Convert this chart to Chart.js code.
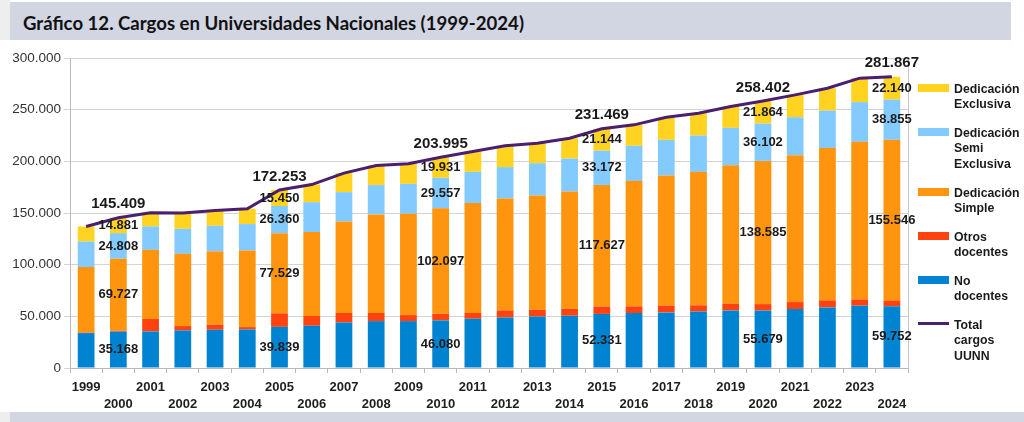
<!DOCTYPE html>
<html>
<head>
<meta charset="utf-8">
<script src="https://cdn.jsdelivr.net/npm/chart.js@4"></script>
<style>
  html, body { margin:0; padding:0; background:#ffffff; }
  body { width:1024px; height:422px; position:relative; overflow:hidden; font-family:"Liberation Sans", Arial, sans-serif; }
  #leftTop { position:absolute; left:0; top:0; width:10px; height:40px; background:#eeeeee; }
  #band { position:absolute; left:10px; top:2px; width:1001px; height:38px; background:#d2d6e3; }
  #title { position:absolute; left:23px; top:11px; font-family:Lato, "Open Sans", sans-serif; font-weight:bold; font-size:18px; line-height:24px; color:#111; white-space:nowrap; transform-origin:0 50%; }
  #leftBot { position:absolute; left:0; top:412px; width:10px; height:10px; background:#eeeeee; }
  #bandBot { position:absolute; left:10px; top:412px; width:1014px; height:10px; background:#d2d6e3; }
  #wrap { position:absolute; left:0; top:40px; width:1024px; height:370px; }
  .lg { position:absolute; left:918px; font-family:"Liberation Sans", Arial, sans-serif; font-weight:bold; font-size:12.3px; line-height:15.5px; color:#1a1a1a; }
  .lg .sw { position:absolute; left:0; width:31px; height:7.5px; }
  .lg .tx { position:absolute; left:36px; top:0; white-space:nowrap; }
</style>
</head>
<body>
<div id="leftTop"></div>
<div id="band"></div>
<div id="title">Gráfico 12. Cargos en Universidades Nacionales (1999-2024)</div>
<div id="leftBot"></div>
<div id="bandBot"></div>
<div id="wrap"><canvas id="c" width="1024" height="370"></canvas></div>
<div id="legend"></div>
<script>
// ---- Data ----
const years = ['1999','2000','2001','2002','2003','2004','2005','2006','2007','2008','2009','2010','2011','2012','2013','2014','2015','2016','2017','2018','2019','2020','2021','2022','2023','2024'];
const noDocentes   = [33800,35168,35400,36400,37000,37300,39839,40900,44100,45400,45400,46080,47700,48900,49900,50600,52331,53200,53800,54700,55700,55679,57000,58600,60300,59752];
const otrosDocentes= [500,825,12000,4200,4900,2300,13075,9400,9100,7800,5800,6330,5500,6800,6500,6700,7195,6400,6500,5900,6500,6172,6800,6800,6000,5574];
const dedSimple    = [63400,69727,67000,69900,71200,74100,77529,81200,88600,95400,98000,102097,106400,108300,110500,113500,117627,121500,126000,129200,134100,138585,142200,147400,152600,155546];
const dedSemi      = [24700,24808,22600,24200,24500,25600,26360,29000,28400,28400,29000,29557,30200,30400,31300,31900,33172,33900,34500,35200,36100,36102,36700,36300,38400,38855];
const dedExclusiva = [14600,14881,13200,15300,14800,14800,15450,17000,18400,19000,19400,19931,19700,20600,19400,19700,21144,20300,21900,21600,20600,21864,21600,21700,23200,22140];
const totalCargos  = [137000,145409,150200,150000,152400,154100,172253,177500,188600,196000,197600,203995,209500,215000,217600,222400,231469,235300,242700,246600,253000,258402,264300,270800,280500,281867];
const labeledYears = ['2000','2005','2010','2015','2020','2024'];
const yTicks = [0,50000,100000,150000,200000,250000,300000];

const COLORS = { blue:'#0084d1', red:'#ff420e', orange:'#ff950e', lblue:'#83caff', yellow:'#ffd320', purple:'#4b1f6f' };

const legendItems = [
  { lines:['Dedicación','Exclusiva'], color:COLORS.yellow, top:81.5 },
  { lines:['Dedicación','Semi','Exclusiva'], color:COLORS.lblue, top:125.5 },
  { lines:['Dedicación','Simple'], color:COLORS.orange, top:185.5 },
  { lines:['Otros','docentes'], color:COLORS.red, top:229.5 },
  { lines:['No','docentes'], color:COLORS.blue, top:273.5 },
  { lines:['Total','cargos','UUNN'], color:COLORS.purple, top:317.5, line:true }
];

const fmt = v => v.toLocaleString('de-DE');

// ---- Title fit ----
(function(){
  const t = document.getElementById('title');
  const w = t.getBoundingClientRect().width;
  t.style.transform = 'scaleX(' + (501 / w) + ')';
})();

// ---- Legend ----
(function(){
  const lg = document.getElementById('legend');
  legendItems.forEach(it => {
    const d = document.createElement('div');
    d.className = 'lg';
    d.style.top = it.top + 'px';
    const sw = document.createElement('div');
    sw.className = 'sw';
    sw.style.background = it.color;
    if (it.line) { sw.style.height = '3px'; sw.style.top = '4.5px'; }
    else { sw.style.top = '2.5px'; }
    const tx = document.createElement('div');
    tx.className = 'tx';
    tx.innerHTML = it.lines.join('<br>');
    d.appendChild(sw); d.appendChild(tx);
    lg.appendChild(d);
  });
})();

// ---- Labels plugin ----
const labelPlugin = {
  id: 'labels',
  beforeDatasetsDraw(chart) {
    const { ctx, chartArea } = chart;
    ctx.save();
    ctx.strokeStyle = '#c8c8c8';
    ctx.lineWidth = 1;
    ctx.beginPath();
    ctx.moveTo(Math.round(chartArea.right) + 0.5, chartArea.top);
    ctx.lineTo(Math.round(chartArea.right) + 0.5, chartArea.bottom);
    ctx.stroke();
    ctx.restore();
  },
  afterDatasetsDraw(chart) {
    const { ctx } = chart;
    ctx.save();
    ctx.textAlign = 'center';
    ctx.textBaseline = 'middle';
    ctx.fillStyle = '#1a1a1a';
    chart.data.datasets.forEach((ds, di) => {
      if (!ds.showLabels) return;
      const meta = chart.getDatasetMeta(di);
      labeledYears.forEach(yr => {
        const i = years.indexOf(yr);
        const el = meta.data[i];
        if (!el) return;
        const v = ds.data[i];
        if (ds.type === 'line') {
          ctx.font = 'bold 15px "Liberation Sans", Arial, sans-serif';
          ctx.fillText(fmt(v), el.x, el.y - 13.5);
        } else {
          ctx.font = 'bold 13px "Liberation Sans", Arial, sans-serif';
          ctx.fillText(fmt(v), el.x, (el.y + el.base) / 2);
        }
      });
    });
    ctx.restore();
  }
};

const barCommon = { type:'bar', stack:'bars', barPercentage:0.52, categoryPercentage:1.0, borderWidth:0, order:1 };

new Chart(document.getElementById('c'), {
  data: {
    labels: years,
    datasets: [
      Object.assign({ label:'No docentes', data:noDocentes, backgroundColor:COLORS.blue, showLabels:true }, barCommon),
      Object.assign({ label:'Otros docentes', data:otrosDocentes, backgroundColor:COLORS.red, showLabels:false }, barCommon),
      Object.assign({ label:'Dedicación Simple', data:dedSimple, backgroundColor:COLORS.orange, showLabels:true }, barCommon),
      Object.assign({ label:'Dedicación Semi Exclusiva', data:dedSemi, backgroundColor:COLORS.lblue, showLabels:true }, barCommon),
      Object.assign({ label:'Dedicación Exclusiva', data:dedExclusiva, backgroundColor:COLORS.yellow, showLabels:true }, barCommon),
      { type:'line', label:'Total cargos UUNN', data:totalCargos, stack:'line', borderColor:COLORS.purple, backgroundColor:COLORS.purple, borderWidth:3, pointRadius:0, tension:0, fill:false, order:0, showLabels:true }
    ]
  },
  options: {
    responsive:false,
    animation:false,
    devicePixelRatio:1,
    layout: { padding: { left:0, right:116, top:18, bottom:0 } },
    plugins: { legend:{ display:false }, tooltip:{ enabled:false } },
    scales: {
      x: {
        stacked:true,
        offset:true,
        afterFit: s => { s.height = 42; },
        grid: { display:true, drawOnChartArea:false, drawTicks:true, tickLength:5, color:'#b8b8b8', offset:true },
        border: { display:true, color:'#b8b8b8' },
        ticks: {
          autoSkip:false, maxRotation:0, minRotation:0, padding:6,
          color:'#1f1f1f',
          font: { family:'"Liberation Sans", Arial, sans-serif', size:13, weight:'bold', lineHeight:1.3 },
          callback: (v, i) => i % 2 === 0 ? [years[i], ''] : ['', years[i]]
        }
      },
      y: {
        stacked:true,
        min:0, max:300000,
        afterFit: s => { s.width = 70; },
        afterBuildTicks: s => { s.ticks = yTicks.map(v => ({ value:v })); },
        grid: { color:'#d4d4d4', lineWidth:1, tickLength:6, drawTicks:true },
        border: { display:true, color:'#b8b8b8' },
        ticks: {
          padding:3,
          color:'#333333',
          font: { family:'"Liberation Sans", Arial, sans-serif', size:13.5 },
          callback: v => fmt(v)
        }
      }
    }
  },
  plugins:[labelPlugin]
});
</script>
</body>
</html>
